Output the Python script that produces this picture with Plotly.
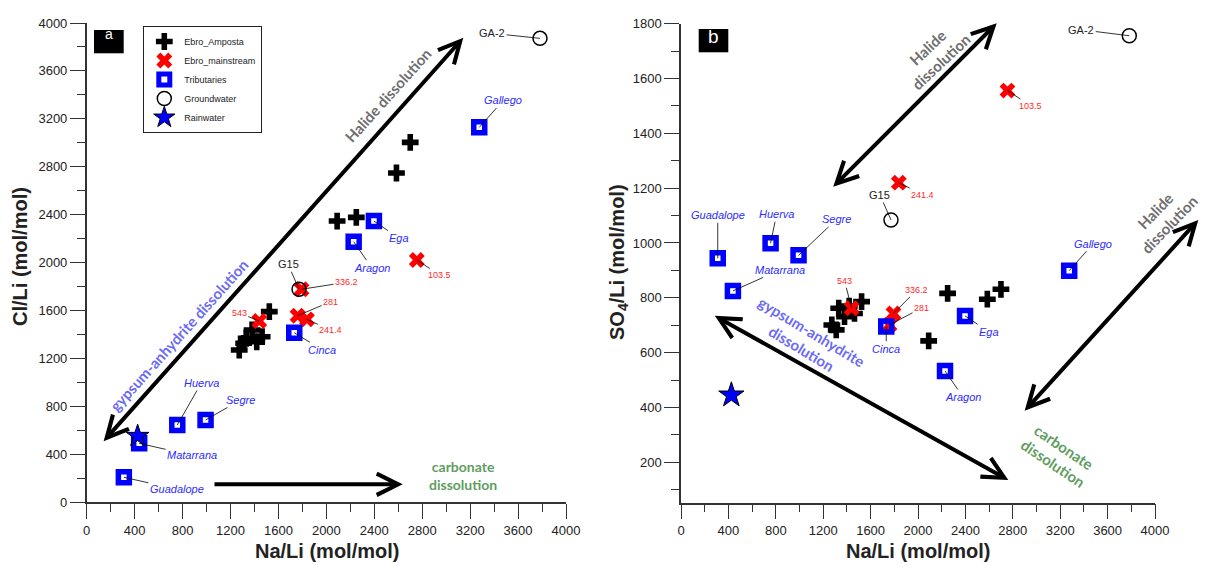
import plotly.graph_objects as go

W, H = 1208, 567

# ---------------- DATA ----------------
amposta_na = [2700, 2585, 2250, 2090, 1524, 1464, 1419, 1380, 1331, 1310, 1273]
amposta_cl = [3004, 2748, 2378, 2347, 1591, 1382, 1340, 1438, 1369, 1327, 1271]
amposta_so4 = [831, 795, 816, 643, 786, 743, 770, 731, 762, 683, 701]

main_labels = ["103.5", "241.4", "281", "336.2", "543"]
main_na = [2755, 1838, 1760, 1793, 1440]
main_cl = [2022, 1527, 1557, 1778, 1513]
main_so4 = [1556, 1220, 701, 743, 762]

trib_labels = ["Gallego", "Ega", "Aragon", "Cinca", "Segre", "Huerva", "Matarrana", "Guadalope"]
trib_na = [3276, 2397, 2228, 1732, 992, 756, 438, 310]
trib_cl = [3129, 2347, 2175, 1415, 687, 645, 492, 209]
trib_so4 = [899, 734, 533, 695, 955, 999, 825, 944]

gw_labels = ["GA-2", "G15"]
gw_na = [3783, 1772]
gw_cl = [3872, 1778]
gw_so4 = [1756, 1084]

rain_na = [425]
rain_cl = [553]
rain_so4 = [445]

x_ticks = [0, 400, 800, 1200, 1600, 2000, 2400, 2800, 3200, 3600, 4000]

# ---------------- helpers ----------------
def px(x):
    return x / W


def py(y):
    return 1 - y / H


FONT = "Liberation Sans, Arial, sans-serif"
BOLDF = "Lato, Open Sans, sans-serif"

fig = go.Figure()

panels = [("x", "y", amposta_cl, main_cl, trib_cl, gw_cl, rain_cl, True, 17),
          ("x2", "y2", amposta_so4, main_so4, trib_so4, gw_so4, rain_so4, False, 19)]

for xa, ya, a_y, m_y, t_y, g_y, r_y, legend, star_size in panels:
    fig.add_trace(go.Scatter(x=amposta_na, y=a_y, xaxis=xa, yaxis=ya, mode="markers",
                             name="Ebro_Amposta", showlegend=legend,
                             marker=dict(symbol="cross", size=14, color="black")))
    fig.add_trace(go.Scatter(x=main_na, y=m_y, xaxis=xa, yaxis=ya, mode="markers",
                             name="Ebro_mainstream", showlegend=legend,
                             marker=dict(symbol="x", size=14, color="#ff0000")))
    fig.add_trace(go.Scatter(x=trib_na, y=t_y, xaxis=xa, yaxis=ya, mode="markers",
                             name="Tributaries", showlegend=legend,
                             marker=dict(symbol="square-open", size=11, color="#0000ff",
                                         line=dict(width=5.5, color="#0000ff"))))
    fig.add_trace(go.Scatter(x=gw_na, y=g_y, xaxis=xa, yaxis=ya, mode="markers",
                             name="Groundwater", showlegend=legend,
                             marker=dict(symbol="circle-open", size=14, color="black",
                                         line=dict(width=1.5, color="black"))))
    fig.add_trace(go.Scatter(x=rain_na, y=r_y, xaxis=xa, yaxis=ya, mode="markers",
                             name="Rainwater", showlegend=legend,
                             marker=dict(symbol="star", size=star_size, color="#0000ff",
                                         line=dict(width=1, color="black"))))

axis_common = dict(showline=True, linecolor="#333", linewidth=1.5, ticks="outside",
                   ticklen=15, tickwidth=1.3, tickcolor="#333", showgrid=False,
                   zeroline=False, automargin=False,
                   tickfont=dict(family=FONT, size=13, color="#222"),
                   minor=dict(ticks="outside", ticklen=8, tickwidth=1.3, tickcolor="#333",
                              showgrid=False))

fig.update_layout(
    width=W, height=H, margin=dict(l=0, r=0, t=0, b=0, autoexpand=False),
    paper_bgcolor="white", plot_bgcolor="white",
    xaxis=dict(domain=[px(86.7), px(566)], range=[0, 4000], tickvals=x_ticks,
               anchor="y", **axis_common),
    yaxis=dict(domain=[py(502.3), py(23)], range=[0, 4000], tick0=0, dtick=400,
               anchor="x", **axis_common),
    xaxis2=dict(domain=[px(681), px(1155)], range=[0, 4000], tickvals=x_ticks,
                anchor="y2", **axis_common),
    yaxis2=dict(domain=[py(502.7), py(23.7)], range=[52.5, 1800], tick0=0, dtick=200,
                anchor="x2", **axis_common),
    legend=dict(x=px(143.3), y=py(26), xanchor="left", yanchor="top",
                bordercolor="#222", borderwidth=1, bgcolor="white",
                font=dict(family=FONT, size=9, color="#222"), itemsizing="trace"),
    showlegend=True,
)
fig.update_xaxes(minor=dict(dtick=200))
fig.update_layout(yaxis_minor=dict(dtick=200), yaxis2_minor=dict(dtick=100))

annotations = []

# leader-line labels: offsets in pixels
lead_a = {
    "Gallego": (24, -27), "Ega": (25, 17), "Aragon": (18, 26), "Cinca": (28, 17),
    "Segre": (35, -20), "Huerva": (24, -42), "Matarrana": (53, 12), "Guadalope": (53, 12),
    "103.5": (23, 15), "241.4": (24, 11), "281": (33, -14), "336.2": (45, -7), "543": (-20, -8),
    "GA-2": (-48, -5), "G15": (-11, -25),
}
lead_b = {
    "Gallego": (24, -27), "Ega": (24, 16), "Aragon": (18, 26), "Cinca": (0, 22),
    "Segre": (38, -36), "Huerva": (6, -29), "Matarrana": (47, -21), "Guadalope": (0, -43),
    "103.5": (23, 15), "241.4": (24, 12), "281": (32, -17), "336.2": (23, -23), "543": (-7, -27),
    "GA-2": (-48, -6), "G15": (-11, -25),
}


def leader(xr, yr, x, y, text, off, color, size, italic=False):
    t = f"<i>{text}</i>" if italic else text
    return dict(x=x, y=y, xref=xr, yref=yr, text=t, showarrow=True, arrowhead=0,
                arrowwidth=0.8, arrowcolor="black", ax=off[0], ay=off[1], standoff=0,
                font=dict(family=FONT, size=size, color=color))


for xr, yr, t_y, m_y, g_y, lead in [("x", "y", trib_cl, main_cl, gw_cl, lead_a),
                                     ("x2", "y2", trib_so4, main_so4, gw_so4, lead_b)]:
    for lab, xv, yv in zip(trib_labels, trib_na, t_y):
        annotations.append(leader(xr, yr, xv, yv, lab, lead[lab], "#2b2bff", 11, True))
    for lab, xv, yv in zip(main_labels, main_na, m_y):
        annotations.append(leader(xr, yr, xv, yv, lab, lead[lab], "#ff2a2a", 9))
    for lab, xv, yv in zip(gw_labels, gw_na, g_y):
        annotations.append(leader(xr, yr, xv, yv, lab, lead[lab], "#222", 11))


def arrow(head, tail, both=True):
    hx, hy = head
    tx, ty = tail
    d = dict(x=px(hx), y=py(hy), xref="paper", yref="paper", ax=tx - hx, ay=ty - hy,
             text="", showarrow=True, arrowhead=5, arrowsize=1.05, arrowwidth=4,
             arrowcolor="black", standoff=0)
    if both:
        d.update(arrowside="end+start", startarrowhead=5, startarrowsize=1.05,
                 startstandoff=0)
    return d


annotations += [
    arrow((463.3, 37.7), (102.3, 442.7)),
    arrow((402.7, 484.3), (213, 484.3), both=False),
    arrow((996.7, 23.3), (831.7, 188.3)),
    arrow((1198.3, 220), (1023.3, 412.3)),
    arrow((1008.3, 480), (713.3, 315)),
]


def label(x, y, text, angle, color, size=15, f=BOLDF):
    return dict(x=px(x), y=py(y), xref="paper", yref="paper", text=text, textangle=angle,
                xanchor="center", yanchor="middle", showarrow=False,
                font=dict(family=f, size=size, color=color))


GRAY = "#6e6e6e"
BLUEL = "#6b6bf5"
GREEN = "#5f9d5f"
annotations += [
    label(388, 95, "<b>Halide dissolution</b>", -48, GRAY),
    label(179, 335, "<b>gypsum-anhydrite dissolution</b>", -48, BLUEL),
    label(463, 475, "<b>carbonate<br>dissolution</b>", 0, GREEN, 14),
    label(934, 55, "<b>Halide<br>dissolution</b>", -43, GRAY),
    label(1162, 218, "<b>Halide<br>dissolution</b>", -46, GRAY),
    label(806, 340, "<b>gypsum-anhydrite<br>dissolution</b>", 31, BLUEL),
    label(1058, 455, "<b>carbonate<br>dissolution</b>", 34, GREEN),
]

# axis titles
TC = "#222"
annotations += [
    label(20, 257, "<b>Cl/Li (mol/mol)</b>", -90, TC, 20, FONT),
    label(327, 551, "<b>Na/Li (mol/mol)</b>", 0, TC, 20, FONT),
    label(918, 551, "<b>Na/Li (mol/mol)</b>", 0, TC, 20, FONT),
    label(618, 262, "<b>SO<sub>4</sub>/Li (mol/mol)</b>", -90, TC, 20, FONT),
]

# panel tags
shapes = [
    dict(type="rect", xref="paper", yref="paper", x0=px(94), x1=px(123.7), y0=py(53.3),
         y1=py(30), fillcolor="black", line=dict(width=0)),
    dict(type="rect", xref="paper", yref="paper", x0=px(698.7), x1=px(728.3), y0=py(52.3),
         y1=py(29), fillcolor="black", line=dict(width=0)),
]
annotations += [
    label(108.8, 34, "a", 0, "white", 14, FONT),
    label(713.5, 37, "b", 0, "white", 19, FONT),
]

fig.update_layout(annotations=annotations, shapes=shapes)
fig.write_html(
    "out.html",
    post_script="document.documentElement.style.margin='0';document.body.style.margin='0';"
                "document.body.style.padding='0';document.body.style.overflow='hidden';",
)
